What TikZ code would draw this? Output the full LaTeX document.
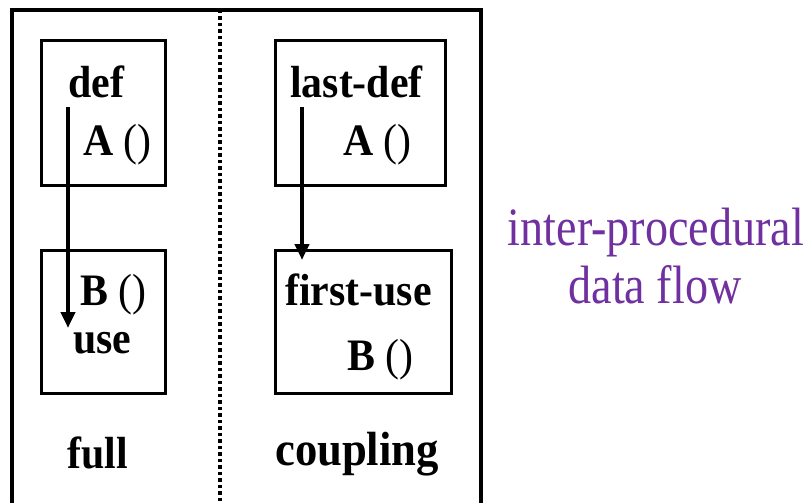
\documentclass[tikz,border=0pt]{standalone}
\usepackage{fontspec}
\setmainfont{Liberation Serif}
\newfontfamily\tallserif[FakeStretch=0.855]{Liberation Serif}
\newfontfamily\tallbold[FakeStretch=0.93]{Liberation Serif}
\usepackage{tikz}
\usetikzlibrary{arrows.meta}
\definecolor{flowpurple}{RGB}{112,48,160}

\tikzset{
  procbox/.style={draw, line width=3pt, rectangle, inner sep=0pt},
  lbl/.style={anchor=base west, inner sep=0pt, font=\tallbold\fontsize{45}{50}\selectfont\bfseries},
  flowarrow/.style={line width=4pt, -{Triangle[length=16pt,width=14pt]}},
  sidelbl/.style={anchor=base, inner sep=0pt, text=flowpurple, font=\tallserif\fontsize{54}{60}\selectfont}
}

\begin{document}
\begin{tikzpicture}[x=1pt, y=-1pt]
        \useasboundingbox (0,0) rectangle (808,503);

        % frame and divider
        \draw[line width=3.5pt] (12,503) |- (481,10) -- (481,503);
        \draw[line width=4pt, dash pattern=on 3.5pt off 3pt] (220,10) -- (220,503);

        % full
        \node[procbox, minimum width=124pt, minimum height=144pt] (defbox) at (103,113) {};
        \node[procbox, minimum width=124pt, minimum height=143pt] (usebox) at (103,321.5) {};
        \node[lbl] (deftxt) at (68,97) {def};
        \node[lbl] (atxt) at (83,155) {A \mdseries()};
        \node[lbl] (btxt) at (80,305) {B \mdseries()};
        \node[lbl] (usetxt) at (73,353) {use};
        \node[lbl] (fulltxt) at (67,468) {full};
        \coordinate (fullsrc) at (68,107);
        \coordinate (fulldst) at (68,328);
        \draw[flowarrow] (fullsrc) -- (fulldst);

        % coupling
        \node[procbox, minimum width=170pt, minimum height=144pt] (lastdefbox) at (360,113) {};
        \node[procbox, minimum width=176pt, minimum height=143pt] (firstusebox) at (363,321.5) {};
        \node[lbl] (lastdeftxt) at (290,97) {last-def};
        \node[lbl] (a2txt) at (343,155) {A \mdseries()};
        \node[lbl] (firstusetxt) at (285,305) {first-use};
        \node[lbl] (b2txt) at (347,370) {B \mdseries()};
        \node[lbl, font=\tallbold\fontsize{48}{52}\selectfont\bfseries] (couplingtxt) at (275,465) {coupling};
        \coordinate (couplesrc) at (302,107);
        \coordinate (coupledst) at (302,260);
        \draw[flowarrow] (couplesrc) -- (coupledst);

        \node[sidelbl] (interlbl) at (656,245) {inter-procedural};
        \node[sidelbl] (flowlbl) at (655,303) {data flow};
\end{tikzpicture}
\end{document}
